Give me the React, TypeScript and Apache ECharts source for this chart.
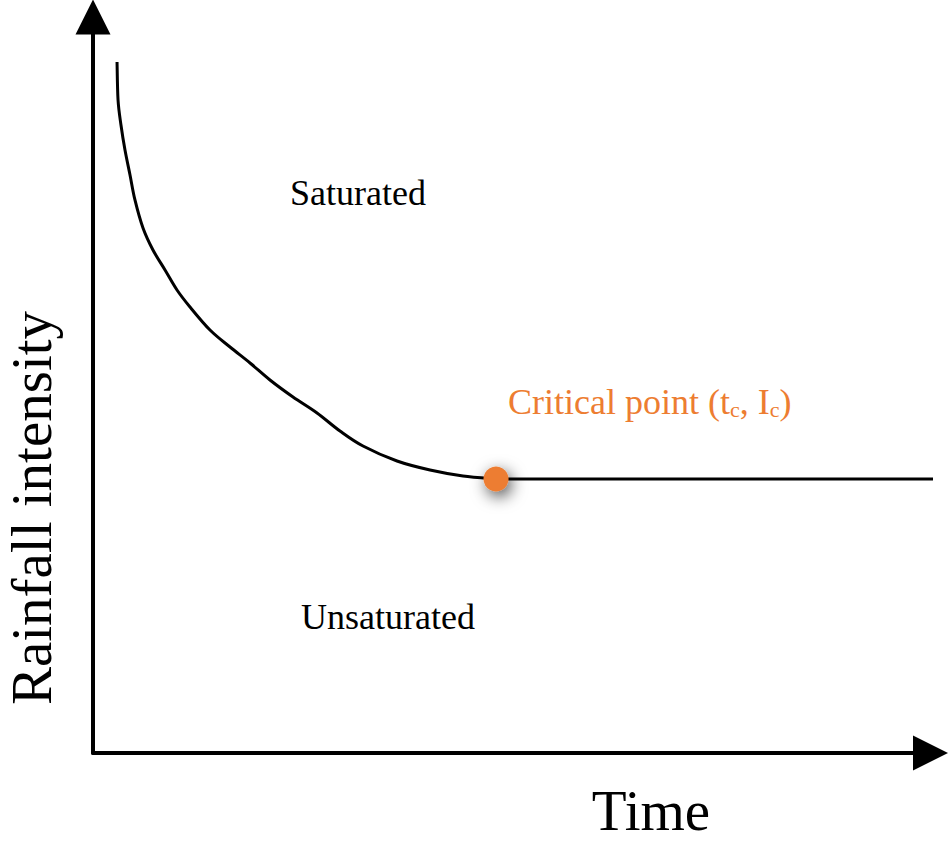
import React, { useEffect, useRef } from "react";
import * as echarts from "echarts";

// Curve of critical rainfall intensity vs time (arbitrary units)
const curveTime = [2.87, 2.99, 3.34, 3.82, 4.42, 5.01, 5.97, 7.16, 8.6, 10.03, 11.58, 13.97, 16.36, 18.75, 21.13, 23.88, 26.75, 29.49, 32.24, 36.3, 40.24, 44.18, 48.12];
const curveIntensity = [93.89, 88.72, 85.33, 81.93, 78.53, 75.14, 71.33, 68.34, 65.63, 62.91, 60.6, 57.47, 55.16, 52.99, 50.68, 48.37, 46.2, 43.75, 41.71, 39.67, 38.45, 37.64, 37.23];

// Constant intensity beyond the critical point
const plateauTime = [48.12, 102.1];
const plateauIntensity = [37.23, 37.23];

const criticalTime = [48.12];
const criticalIntensity = [37.23];

const xAxisTitle = "Time";
const yAxisTitle = "Rainfall intensity";
const regionLabels = ["Saturated", "Unsaturated"];

const FONT = "'Liberation Serif'";
const ORANGE = "#ED7D31";

// Catmull-Rom spline through pixel points -> SVG path data
function splinePath(pts: number[][]): string {
  if (pts.length < 2) return "";
  let d = `M${pts[0][0]},${pts[0][1]}`;
  for (let i = 0; i < pts.length - 1; i++) {
    const p0 = pts[Math.max(0, i - 1)];
    const p1 = pts[i];
    const p2 = pts[i + 1];
    const p3 = pts[Math.min(pts.length - 1, i + 2)];
    const c1x = p1[0] + (p2[0] - p0[0]) / 6;
    const c1y = p1[1] + (p2[1] - p0[1]) / 6;
    const c2x = p2[0] - (p3[0] - p1[0]) / 6;
    const c2y = p2[1] - (p3[1] - p1[1]) / 6;
    d += ` C${c1x},${c1y} ${c2x},${c2y} ${p2[0]},${p2[1]}`;
  }
  return d;
}

export default function App() {
  const ref = useRef<HTMLDivElement>(null);

  useEffect(() => {
    if (!ref.current) return;
    const chart = echarts.init(ref.current, undefined, { renderer: "svg" });

    const axisCommon = {
      type: "value" as const,
      min: 0,
      max: 100,
      axisLine: {
        show: true,
        onZero: false,
        symbol: ["none", "triangle"],
        symbolSize: [35, 35],
        lineStyle: { color: "#000", width: 4 },
      },
      axisTick: { show: false },
      axisLabel: { show: false },
      splitLine: { show: false },
    };

    const txt = (x: number, y: number, text: string, size: number, rotation = 0) => ({
      type: "text",
      x,
      y,
      rotation,
      style: {
        text,
        font: `${size}px ${FONT}`,
        fill: "#000",
        align: "center",
        verticalAlign: "middle",
      },
    });

    const curveData = curveTime.map((t, i) => [t, curveIntensity[i]]);

    chart.setOption({
      animation: false,
      backgroundColor: "#fff",
      grid: { left: 93, right: 17.5, top: 17, bottom: 95 },
      xAxis: axisCommon,
      yAxis: axisCommon,
      series: [
        {
          type: "custom",
          data: curveData,
          clip: false,
          z: 2,
          renderItem: (params: any, api: any) => {
            if (params.dataIndex !== 0) return null;
            const points = curveData.map((d) => api.coord(d));
            return {
              type: "path",
              shape: { pathData: splinePath(points) },
              style: { stroke: "#000", lineWidth: 3, fill: "none" },
            };
          },
        },
        {
          type: "line",
          data: plateauTime.map((t, i) => [t, plateauIntensity[i]]),
          showSymbol: false,
          clip: false,
          lineStyle: { color: "#000", width: 3 },
          z: 2,
        },
        {
          type: "scatter",
          data: criticalTime.map((t, i) => [t, criticalIntensity[i]]),
          symbolSize: 25,
          clip: false,
          itemStyle: {
            color: ORANGE,
            opacity: 1,
            shadowBlur: 16,
            shadowColor: "rgba(0,0,0,0.7)",
            shadowOffsetX: 3,
            shadowOffsetY: 5,
          },
          z: 3,
        },
      ],
      graphic: [
        txt(358, 193, regionLabels[0], 36),
        txt(388, 617, regionLabels[1], 36),
        txt(651, 810, xAxisTitle, 57),
        txt(31, 508, yAxisTitle, 57, Math.PI / 2),
        {
          type: "text",
          x: 508,
          y: 402,
          style: {
            text: "{m|Critical point (t}{s|c}{m|, I}{s|c}{m|)}",
            align: "left",
            verticalAlign: "middle",
            rich: {
              m: { font: `36px ${FONT}`, fill: ORANGE, color: ORANGE },
              s: {
                font: `22px ${FONT}`,
                fill: ORANGE,
                color: ORANGE,
                verticalAlign: "bottom",
                padding: [14, 0, 0, 0],
              },
            },
          },
        },
      ],
    });

    return () => chart.dispose();
  }, []);

  return (
    <div
      ref={ref}
      style={{ position: "fixed", left: 0, top: 0, width: 948, height: 848 }}
    />
  );
}
